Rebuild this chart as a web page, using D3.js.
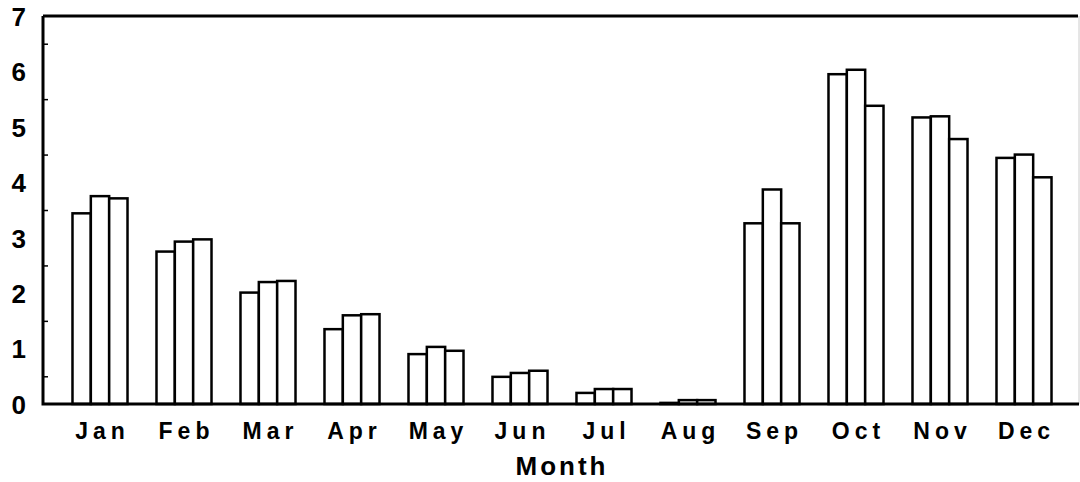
<!DOCTYPE html>
<html>
<head>
<meta charset="utf-8">
<script src="https://cdn.jsdelivr.net/npm/d3@7"></script>
<style>
  body { margin: 0; background: #fff; }
  text { font-family: "Liberation Sans", Arial, sans-serif; font-weight: bold; fill: #000; }
</style>
</head>
<body>
<svg id="chart"></svg>
<script>
var months = ["Jan", "Feb", "Mar", "Apr", "May", "Jun", "Jul", "Aug", "Sep", "Oct", "Nov", "Dec"];
var series1 = [3.44, 2.75, 2.01, 1.35, 0.90, 0.49, 0.20, 0.02, 3.26, 5.95, 5.17, 4.44];
var series2 = [3.75, 2.93, 2.20, 1.60, 1.03, 0.56, 0.27, 0.07, 3.87, 6.03, 5.19, 4.50];
var series3 = [3.71, 2.97, 2.22, 1.62, 0.96, 0.60, 0.27, 0.07, 3.26, 5.38, 4.78, 4.09];
var yTicks = [0, 1, 2, 3, 4, 5, 6, 7];
var yMinorTicks = [0.5, 1.5, 2.5, 3.5, 4.5, 5.5, 6.5];

var width = 1080,
    height = 482;

var svg = d3.select("#chart")
    .attr("width", width)
    .attr("height", height);

// Scales
var x = d3.scaleBand()
    .domain(months)
    .range([58, 1066])
    .paddingInner(0.345)
    .paddingOuter(0.1725);

var xSub = d3.scaleBand()
    .domain([0, 1, 2])
    .range([0, x.bandwidth()]);

var y = d3.scaleLinear()
    .domain([0, 7])
    .range([404, 16]);

var rows = months.map((m, i) => ({month: m, values: [series1[i], series2[i], series3[i]]}));

// frame
svg.append("line")
    .attr("x1", 1079).attr("x2", 1079)
    .attr("y1", y(7)).attr("y2", y(0))
    .attr("stroke", "#ccc").attr("stroke-width", 1);

// bars
var group = svg.append("g").selectAll("g")
    .data(rows)
  .enter().append("g")
    .attr("transform", d => `translate(${x(d.month)},0)`);

group.selectAll("rect")
    .data(d => d.values)
  .enter().append("rect")
    .attr("x", (d, i) => xSub(i))
    .attr("y", d => y(d))
    .attr("width", xSub.bandwidth())
    .attr("height", d => y(0) - y(d))
    .attr("fill", "#fff")
    .attr("stroke", "#000")
    .attr("stroke-width", 2.5);

svg.append("path")
    .attr("d", `M${x.range()[0] - 15},${y(7)}H1078M43,${y(7)}V${y(0)}H1079`)
    .attr("fill", "none")
    .attr("stroke", "#000")
    .attr("stroke-width", 3);

// Y axis labels
var yAxis = svg.append("g")
    .attr("transform", "translate(43,0)")
    .call(d3.axisLeft(y).tickValues(yTicks).tickSize(0).tickPadding(17).tickFormat(d3.format("d")));
yAxis.select(".domain").remove();
yAxis.selectAll("text")
    .attr("dy", "0.36em")
    .style("font-size", "26px");

// minor ticks, drawn inward
var yMinor = svg.append("g")
    .attr("transform", "translate(43,0)")
    .call(d3.axisLeft(y).tickValues(yMinorTicks).tickSize(-5).tickFormat(""));
yMinor.select(".domain").remove();
yMinor.selectAll("line").attr("stroke-width", 1.5);

// X axis labels
var xAxis = svg.append("g")
    .attr("transform", `translate(0,${y(0)})`)
    .call(d3.axisBottom(x).tickSize(0).tickPadding(19));
xAxis.select(".domain").remove();
xAxis.selectAll("text")
    .style("font-size", "23px")
    .style("letter-spacing", "5px")
    .attr("dx", "2.5px");

svg.append("text")
    .attr("x", 562)
    .attr("y", 475)
    .attr("text-anchor", "middle")
    .style("font-size", "26px")
    .style("letter-spacing", "3px")
    .text("Month");
</script>
</body>
</html>
